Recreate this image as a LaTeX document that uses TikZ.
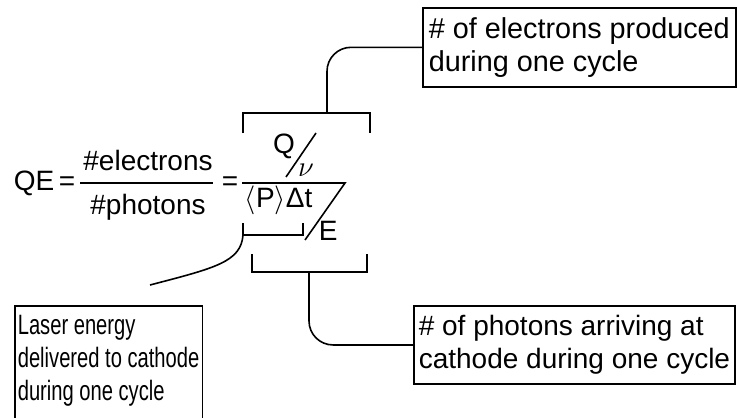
\documentclass[tikz,border=0pt]{standalone}
\usepackage{fontspec}
\setmainfont{Liberation Sans}
\newfontfamily\narrowsans[FakeStretch=0.72]{Liberation Sans}
\begin{document}
\begin{tikzpicture}[x=0.5pt,y=-0.5pt,line width=0.8pt,
  every node/.style={font=\fontsize{14}{16.5}\selectfont,inner sep=0pt},
  notebox/.style={draw,anchor=north west,align=left,inner xsep=2.5pt,inner ysep=4.8pt}]
  \clip (0,0) rectangle (737,417);
  \node[anchor=base west] (qe) at (13,190) {QE\,=};
  \node[anchor=base] (nelec) at (148,170) {\#electrons};
  \node[anchor=base] (nphot) at (148,214) {\#photons};
  \draw (80,183) -- (213,183);
  \node[anchor=base] (eq) at (230,190) {=};
  \node[anchor=base] (q) at (284,153) {Q};
  \node[anchor=base] (nu) at (306,176) {$\nu$};
  \draw (286,177) -- (316,133);
  \node[anchor=base west] (pdt) at (244,207) {$\Big\langle$P$\Big\rangle$Δt};
  \draw (242,183) -- (345,183) -- (305,240);
  \node[anchor=base west] (e) at (318,240) {E};
  \draw (243,133) -- (243,113) -- (370,113) -- (370,133);
  \draw (243,223) -- (243,235) -- (303,235) -- (303,223);
  \draw (252,254) -- (252,272) -- (367,272) -- (367,254);
  \coordinate (qtop) at (327,113);
  \coordinate (pbr) at (243,235);
  \coordinate (ebr) at (309,272);
  \coordinate (lasend) at (150,285);
  \node[notebox,inner xsep=3pt,font=\fontsize{14.4}{16.5}\selectfont] (elecbox) at (422,7)
    {\# of electrons produced\\during one cycle};
  \node[notebox] (photbox) at (413,305)
    {\# of photons arriving at\\cathode during one cycle};
  \node[notebox,inner xsep=1.5pt,font=\fontsize{14}{16.5}\narrowsans] (laserbox) at (14,305)
    {Laser energy\\delivered to cathode\\during one cycle\\[4pt]};
  \draw[rounded corners=12pt] (qtop) |- (elecbox.west);
  \draw[rounded corners=12pt] (ebr) |- (photbox.west);
  \draw (pbr) .. controls (241,262) and (215,268) .. (lasend);
\end{tikzpicture}
\end{document}
